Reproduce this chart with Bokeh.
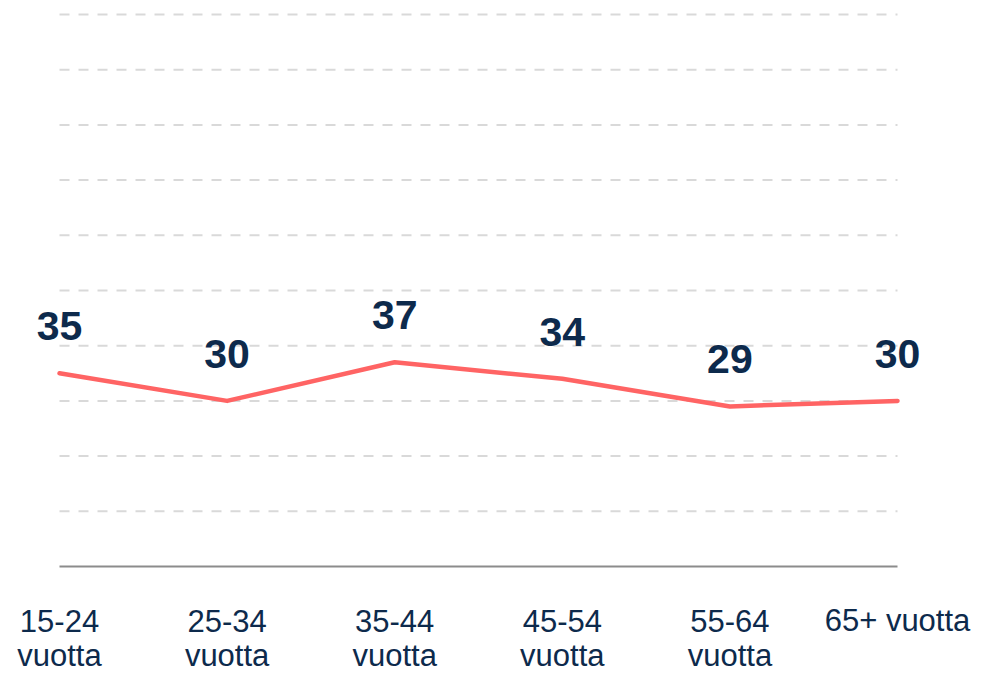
from bokeh.plotting import figure
from bokeh.models import Range1d, ColumnDataSource
from bokeh.core.properties import value
from bokeh.embed import file_html
from bokeh.resources import INLINE

# Data
categories = ["15-24\nvuotta", "25-34\nvuotta", "35-44\nvuotta", "45-54\nvuotta", "55-64\nvuotta", "65+ vuotta"]
values = [35, 30, 37, 34, 29, 30]
grid_values = [10, 20, 30, 40, 50, 60, 70, 80, 90, 100]

W, H = 973, 674
n = len(categories)
xs = list(range(n))

# pixel geometry (frame fills the figure)
left_px, right_px = 59, 897          # x=0 and x=n-1 in figure pixels
top_px, zero_px = 14, 566            # y=100 and y=0 in figure pixels
ppx = (right_px - left_px) / (n - 1)
ppy = (zero_px - top_px) / 100.0

p = figure(width=W, height=H, output_backend="svg", toolbar_location=None,
           x_range=Range1d(-left_px / ppx, (n - 1) + (W - right_px) / ppx),
           y_range=Range1d(-(H - zero_px) / ppy, 100 + top_px / ppy),
           x_axis_type=None, y_axis_type=None, min_border=0)
p.outline_line_color = None
p.grid.visible = False
p.background_fill_color = "white"
p.border_fill_color = "white"

# dashed gridlines
p.segment(x0=[0] * len(grid_values), x1=[n - 1] * len(grid_values),
          y0=grid_values, y1=grid_values,
          line_color="#d9d9d9", line_width=2, line_dash="10 9")
# baseline axis line
p.segment(x0=[0], x1=[n - 1], y0=[0], y1=[0], line_color="#8c8c8c", line_width=2)

line1 = [c.split("\n")[0] for c in categories]
line2 = [c.split("\n")[1] if "\n" in c else "" for c in categories]

src = ColumnDataSource(dict(x=xs, y=values, lab=[str(v) for v in values],
                            l1=line1, l2=line2, zero=[0] * n))

p.line("x", "y", source=src, line_color="#ff6464", line_width=4.5, line_join="round", line_cap="round")

p.text("x", "y", text="lab", source=src, text_align="center", text_baseline="alphabetic",
       y_offset=-47, text_font=value("Liberation Sans"), text_font_style="bold",
       text_font_size="41px", text_color="#0d2a4c")

for col, off in (("l1", 54), ("l2", 89)):
    p.text("x", "zero", text=col, source=src, text_align="center", text_baseline="alphabetic",
           y_offset=off, text_font=value("Liberation Sans"), text_font_size="31px",
           text_color="#0d2a4c")

open("out.html", "w").write(file_html(p, INLINE))
